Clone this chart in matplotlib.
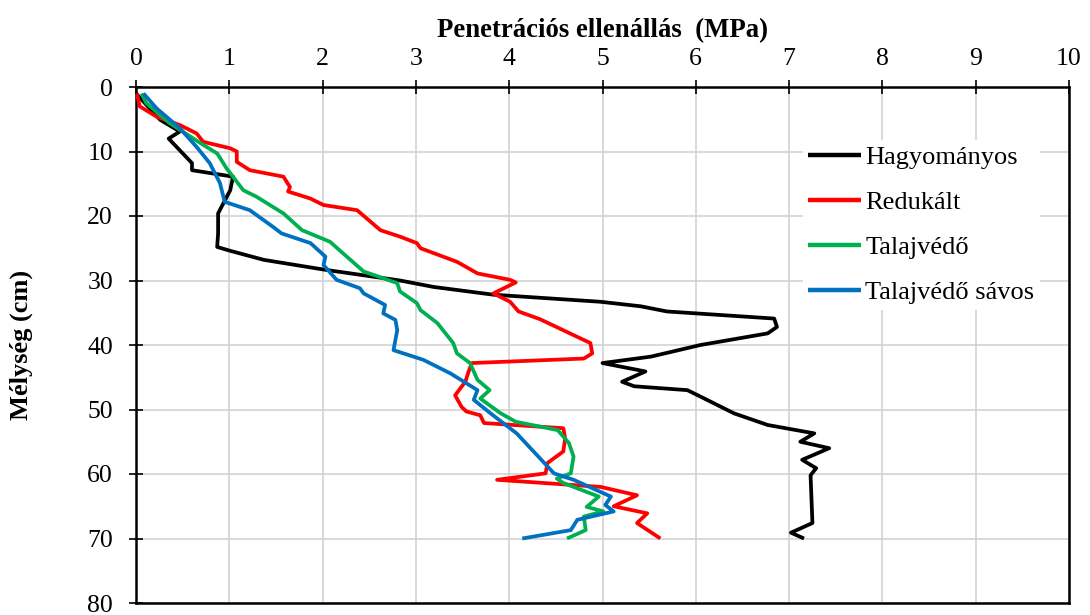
import matplotlib
matplotlib.use('Agg')
import matplotlib.pyplot as plt

plt.rcParams['font.family'] = ['Liberation Serif', 'DejaVu Serif']

# Mérési adatok: mélység (cm) és penetrációs ellenállás (MPa)
hagy_melyseg = [1.0, 5.1, 6.9, 8.0, 11.8, 12.9, 13.9, 16.0, 19.6, 22.7, 24.8, 25.4, 26.8,
                28.3, 30.0, 31.0, 32.2, 33.3, 34.0, 34.8, 35.9, 37.2, 38.2, 40.0, 41.8,
                42.8, 44.1, 45.7, 46.4, 47.0, 48.0, 50.6, 52.4, 53.7, 55.0, 56.0, 57.8,
                59.1, 60.2, 67.6, 69.1, 70.0]
hagy_ertek = [0.0, 0.26, 0.47, 0.35, 0.60, 0.60, 1.04, 1.01, 0.88, 0.88, 0.87, 1.01, 1.37,
              2.01, 2.83, 3.19, 3.83, 4.98, 5.41, 5.69, 6.84, 6.87, 6.77, 6.05, 5.52,
              5.00, 5.46, 5.21, 5.34, 5.91, 6.05, 6.41, 6.77, 7.27, 7.12, 7.43, 7.14,
              7.29, 7.23, 7.25, 7.02, 7.16]

red_melyseg = [1.0, 3.0, 4.6, 5.9, 7.2, 8.5, 9.5, 10.0, 11.6, 12.9, 13.9, 15.5, 16.2, 17.3,
               18.3, 19.1, 22.2, 23.2, 24.2, 25.0, 27.1, 28.9, 29.9, 30.3, 32.0, 33.3,
               34.8, 36.0, 39.7, 41.3, 42.1, 42.8, 43.9, 45.7, 47.8, 49.6, 50.3, 50.9,
               52.1, 52.9, 54.5, 56.5, 58.3, 59.9, 60.9, 62.0, 63.3, 65.0, 66.1, 67.6, 70.0]
red_ertek = [0.01, 0.04, 0.22, 0.47, 0.65, 0.72, 1.01, 1.08, 1.08, 1.22, 1.58, 1.65, 1.63, 1.87,
             2.01, 2.37, 2.62, 2.83, 3.01, 3.05, 3.44, 3.66, 4.01, 4.07, 3.83, 4.01,
             4.10, 4.33, 4.87, 4.89, 4.80, 3.60, 3.57, 3.53, 3.42, 3.49, 3.54, 3.69,
             3.73, 4.58, 4.60, 4.58, 4.41, 4.39, 3.87, 4.98, 5.37, 5.12, 5.48, 5.37, 5.62]

tv_melyseg = [1.0, 2.5, 5.6, 8.7, 10.3, 12.6, 16.0, 17.0, 19.6, 22.2, 24.0, 25.8, 28.6,
              30.4, 31.7, 33.5, 34.6, 36.6, 39.7, 41.3, 42.8, 45.4, 47.0, 48.3, 50.6,
              51.9, 53.2, 55.2, 57.3, 59.9, 60.7, 61.4, 63.5, 65.1, 65.8, 66.6, 68.7, 70.0]
tv_ertek = [0.06, 0.11, 0.36, 0.69, 0.87, 0.97, 1.15, 1.29, 1.58, 1.78, 2.08, 2.22, 2.44,
            2.80, 2.83, 3.01, 3.05, 3.23, 3.40, 3.44, 3.58, 3.66, 3.79, 3.69, 3.91,
            4.07, 4.52, 4.64, 4.69, 4.66, 4.51, 4.58, 4.96, 4.83, 5.01, 4.80, 4.82, 4.62]

tvs_melyseg = [1.0, 3.3, 6.4, 9.3, 11.8, 14.9, 17.8, 19.1, 21.7, 22.7, 24.2, 26.3, 27.6,
               29.9, 31.2, 32.0, 33.8, 35.1, 36.1, 37.7, 40.8, 42.3, 44.4, 47.0, 48.5,
               50.6, 53.7, 59.9, 60.9, 63.5, 64.8, 65.8, 67.1, 68.7, 70.0]
tvs_ertek = [0.08, 0.22, 0.47, 0.65, 0.79, 0.90, 0.95, 1.22, 1.47, 1.56, 1.87, 2.03, 2.01,
             2.15, 2.40, 2.44, 2.67, 2.65, 2.78, 2.80, 2.76, 3.08, 3.37, 3.66, 3.62,
             3.80, 4.08, 4.48, 4.69, 5.09, 5.03, 5.12, 4.73, 4.66, 4.14]

sorozatok = [
    ('Hagyományos', hagy_melyseg, hagy_ertek, '#000000'),
    ('Redukált', red_melyseg, red_ertek, '#FF0000'),
    ('Talajvédő', tv_melyseg, tv_ertek, '#00B050'),
    ('Talajvédő sávos', tvs_melyseg, tvs_ertek, '#0070C0'),
]

fig = plt.figure(figsize=(10.9, 6.15), dpi=100)
ax = fig.add_axes([136 / 1090, 1 - 603 / 615, (1069 - 136) / 1090, (603 - 87) / 615])

for nev, d, v, szin in sorozatok:
    ax.plot(v, d, color=szin, lw=2.7, label=nev, solid_joinstyle='round',
            solid_capstyle='butt', zorder=3)

ax.set_xlim(0, 10)
ax.set_ylim(80, 0)
ax.set_xticks(range(0, 11))
ax.set_yticks(range(0, 81, 10))
ax.xaxis.tick_top()
ax.xaxis.set_label_position('top')
ax.grid(True, color='#d0d0d0', lw=1.1)
ax.set_axisbelow(True)

for s in ax.spines.values():
    s.set_linewidth(1.8)
    s.set_color('black')
ax.tick_params(axis='both', direction='inout', length=10, width=1.2, labelsize=18.5)
ax.tick_params(axis='x', pad=7)
ax.tick_params(axis='y', pad=11.5)

ax.set_xlabel('Penetrációs ellenállás  (MPa)', fontsize=19.3, fontweight='bold', labelpad=8)
ax.set_ylabel('Mélység (cm)', fontsize=19, fontweight='bold', labelpad=39)

leg = ax.legend(loc='upper left', bbox_to_anchor=(790 / 1090, 1 - 127 / 615),
                bbox_transform=fig.transFigure, fontsize=19, handlelength=2.0,
                handletextpad=0.15, labelspacing=0.82, borderpad=0.2,
                fancybox=False, framealpha=1, facecolor='white', edgecolor='none')
for h in leg.get_lines():
    h.set_linewidth(3.2)

fig.savefig('out.png', dpi=100)
